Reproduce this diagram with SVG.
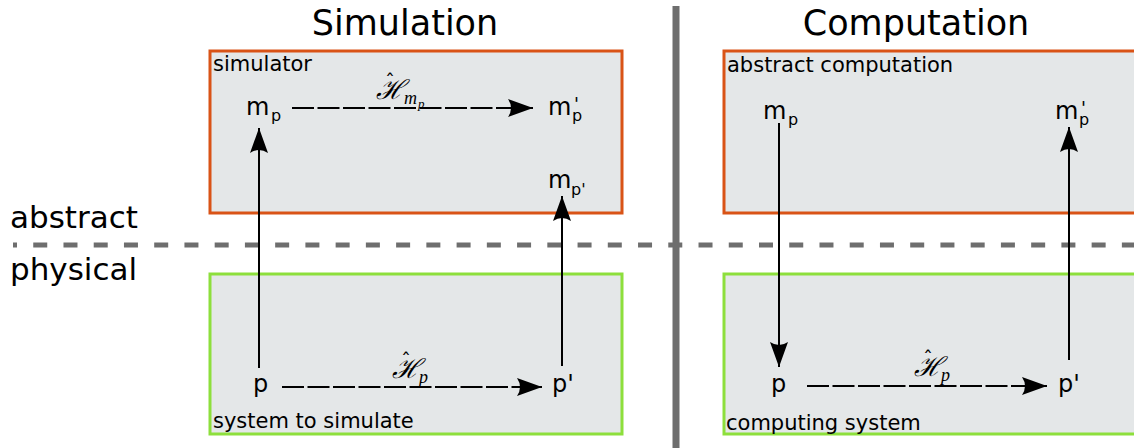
<svg xmlns="http://www.w3.org/2000/svg" width="1134" height="448" viewBox="0 0 1134 448">
<style>
.abs{fill:#e4e7e8;stroke:#d95316;stroke-width:3}
.phy{fill:#e4e7e8;stroke:#8ddf3c;stroke-width:3}
.title{font-family:"DejaVu Sans",sans-serif;font-size:31px;fill:#000}
.head{font-family:"DejaVu Sans",sans-serif;font-size:35px;fill:#000}
.lbl{font-family:"DejaVu Sans",sans-serif;font-size:21px;fill:#000}
.node{font-family:"DejaVu Sans",sans-serif;font-size:24px;fill:#000}
.sub{font-size:16px}
.pr{font-size:18px}
.math{font-family:"DejaVu Serif",serif;font-style:italic;font-size:27px;fill:#000}
.hat{font-family:"DejaVu Sans",sans-serif;font-style:normal;font-size:20px}
.msub{font-family:"Liberation Serif",serif;font-size:18px}
.msub2{font-family:"Liberation Serif",serif;font-size:13px}
.solid{stroke:#000;stroke-width:2;fill:none}
.dash{stroke:#000;stroke-width:2;fill:none;stroke-dasharray:22 3.5}
</style>
<defs>
<marker id="ah" viewBox="0 0 25 18" refX="25" refY="9" markerWidth="25" markerHeight="18" markerUnits="userSpaceOnUse" orient="auto">
<path d="M25,9 L0,0 Q6,9 0,18 Z" fill="#000"/>
</marker>
</defs>
<rect width="1134" height="448" fill="#fff"/>

<g id="dividers">
<line x1="676" y1="6" x2="676" y2="448" stroke="#6e6e6e" stroke-width="7"/>
<line x1="13" y1="245" x2="1134" y2="245" stroke="#6e6e6e" stroke-width="5" stroke-dasharray="14 16.24" stroke-dashoffset="10"/>
</g>

<g id="titles">
<text class="head" x="405" y="35" text-anchor="middle">Simulation</text>
<text class="head" x="916" y="35" text-anchor="middle">Computation</text>
<text class="title" x="10" y="228">abstract</text>
<text class="title" x="10" y="280">physical</text>
</g>

<g id="simulator">
<rect class="abs" x="210" y="51" width="412" height="162"/>
<text class="lbl" x="213" y="71">simulator</text>
</g>
<g id="system-to-simulate">
<rect class="phy" x="210" y="274" width="412" height="160"/>
<text class="lbl" x="213" y="428">system to simulate</text>
</g>
<g id="abstract-computation">
<rect class="abs" x="724" y="51" width="420" height="162"/>
<text class="lbl" x="727" y="72">abstract computation</text>
</g>
<g id="computing-system">
<rect class="phy" x="724" y="274" width="420" height="160"/>
<text class="lbl" x="726" y="430">computing system</text>
</g>

<g id="sim-mp">
<text class="node" x="246" y="115">m<tspan class="sub" x="271" y="121">p</tspan></text>
</g>
<g id="sim-mp-prime">
<text class="node" x="548" y="115">m<tspan class="pr" x="574" y="110">'</tspan><tspan class="sub" x="572" y="121">p</tspan></text>
</g>
<g id="sim-mpprime">
<text class="node" x="548" y="188">m<tspan class="sub" x="571" y="195">p'</tspan></text>
</g>
<g id="sim-p">
<text class="node" x="253" y="392">p</text>
</g>
<g id="sim-p-prime">
<text class="node" x="552" y="392">p'</text>
</g>
<g id="comp-mp">
<text class="node" x="763" y="119">m<tspan class="sub" x="788" y="125">p</tspan></text>
</g>
<g id="comp-mp-prime">
<text class="node" x="1055" y="119">m<tspan class="pr" x="1081" y="114">'</tspan><tspan class="sub" x="1079" y="125">p</tspan></text>
</g>
<g id="comp-p">
<text class="node" x="771" y="392">p</text>
</g>
<g id="comp-p-prime">
<text class="node" x="1058" y="392">p'</text>
</g>

<g id="connectors">
<line class="dash" x1="292" y1="108" x2="533" y2="108" marker-end="url(#ah)"/>
<line class="dash" x1="282" y1="387" x2="542" y2="387" marker-end="url(#ah)"/>
<line class="dash" x1="807" y1="386" x2="1047" y2="386" marker-end="url(#ah)"/>
<line class="solid" x1="259" y1="368" x2="259" y2="128" marker-end="url(#ah)"/>
<line class="solid" x1="562" y1="366" x2="562" y2="196" marker-end="url(#ah)"/>
<line class="solid" x1="779" y1="123" x2="779" y2="367" marker-end="url(#ah)"/>
<line class="solid" x1="1069" y1="360" x2="1069" y2="127" marker-end="url(#ah)"/>
<g id="label-sim-H">
<text class="math" x="376" y="99">ℋ<tspan class="hat" x="385" y="88">ˆ</tspan><tspan class="msub" x="404" y="104">m</tspan><tspan class="msub2" x="418" y="108">p</tspan></text>
</g>
<g id="label-phys-H">
<text class="math" x="392" y="378">ℋ<tspan class="hat" x="401" y="367">ˆ</tspan><tspan class="msub" x="419" y="383">p</tspan></text>
</g>
<g id="label-comp-H">
<text class="math" x="914" y="376">ℋ<tspan class="hat" x="923" y="365">ˆ</tspan><tspan class="msub" x="941" y="381">p</tspan></text>
</g>
</g>
</svg>
